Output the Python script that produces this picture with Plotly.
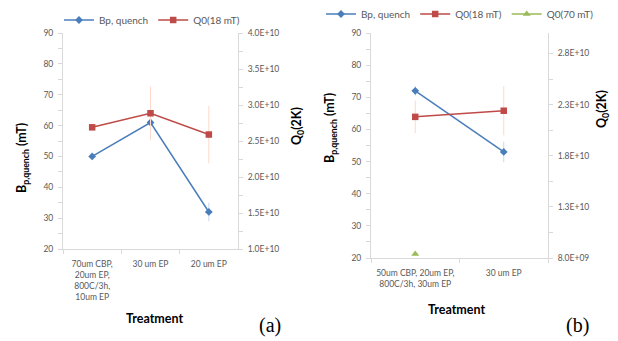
import plotly.graph_objects as go

# ---------------- data ----------------
cats_a = ["70um CBP,<br>20um EP,<br>800C/3h,<br>10um EP", "30 um EP", "20 um EP"]
bp_a = [50, 61, 32]
bp_a_err = [0, 0, 3]
q0_18_a = [2.69e10, 2.885e10, 2.59e10]
q0_18_a_err = [0, 0.37e10, 0.40e10]

cats_b = ["50um CBP, 20um EP,<br>800C/3h, 30um EP", "30 um EP"]
bp_b = [72, 53]
bp_b_err = [1.5, 3.2]
q0_18_b = [2.18e10, 2.24e10]
q0_18_b_err = [0.16e10, 0.24e10]
q0_70_b = [0.84e10, None]

bp_ticks = [20, 30, 40, 50, 60, 70, 80, 90]
q0_ticks_a = [1.0e10, 1.5e10, 2.0e10, 2.5e10, 3.0e10, 3.5e10, 4.0e10]
q0_ticks_b = [0.8e10, 1.3e10, 1.8e10, 2.3e10, 2.8e10]

# ---------------- style ----------------
FONT = "Lato"
BLUE = "#4a7ebb"
RED = "#be4b48"
GREEN = "#9bbb59"
GRID = "#d9d9d9"
TXT = "#595959"

W, H = 618, 341
def px_x(a, b):
    return [a / W, b / W]
def px_y(top, bottom):
    return [1 - bottom / H, 1 - top / H]

fig = go.Figure()

# panel (a)
fig.add_trace(go.Scatter(x=cats_a, y=bp_a, name="Bp, quench", mode="lines+markers",
                         line=dict(color=BLUE, width=1.5),
                         marker=dict(symbol="diamond", size=6, color=BLUE),
                         error_y=dict(type="data", array=bp_a_err, color="#c6daf0", thickness=1, width=0),
                         xaxis="x", yaxis="y", legend="legend"))
fig.add_trace(go.Scatter(x=cats_a, y=q0_18_a, name="Q0(18 mT)", mode="lines+markers",
                         line=dict(color=RED, width=1.5),
                         marker=dict(symbol="square", size=6.5, color=RED),
                         error_y=dict(type="data", array=q0_18_a_err, color="#fcd9cb", thickness=1, width=0),
                         xaxis="x", yaxis="y2", legend="legend"))

# panel (b)
fig.add_trace(go.Scatter(x=cats_b, y=bp_b, name="Bp, quench", mode="lines+markers",
                         line=dict(color=BLUE, width=1.5),
                         marker=dict(symbol="diamond", size=6, color=BLUE),
                         error_y=dict(type="data", array=bp_b_err, color="#c6daf0", thickness=1, width=0),
                         xaxis="x2", yaxis="y3", legend="legend2"))
fig.add_trace(go.Scatter(x=cats_b, y=q0_18_b, name="Q0(18 mT)", mode="lines+markers",
                         line=dict(color=RED, width=1.5),
                         marker=dict(symbol="square", size=6.5, color=RED),
                         error_y=dict(type="data", array=q0_18_b_err, color="#fcd9cb", thickness=1, width=0),
                         xaxis="x2", yaxis="y4", legend="legend2"))
fig.add_trace(go.Scatter(x=cats_b, y=q0_70_b, name="Q0(70 mT)", mode="lines+markers",
                         line=dict(color=GREEN, width=1.5),
                         marker=dict(symbol="triangle-up", size=7, color=GREEN),
                         xaxis="x2", yaxis="y4", legend="legend2"))

tickfont = dict(family=FONT, size=8.5, color=TXT)
titlefont = dict(family=FONT, size=12.5, color="#000000")

def xaxis(dom, cats, anchor):
    return dict(domain=dom, anchor=anchor, type="category", categoryorder="array",
                categoryarray=cats, range=[-0.5, len(cats) - 0.5], tickangle=0,
                showline=True, linecolor=GRID, linewidth=1, ticks="outside", tickson="boundaries",
                ticklen=4, tickcolor=GRID, showgrid=False, zeroline=False, tickfont=tickfont,
                ticklabelstandoff=7)

def yleft(dom, anchor, rng):
    return dict(domain=dom, anchor=anchor, range=rng, tickmode="array", tickvals=bp_ticks,
                ticktext=[str(v) for v in bp_ticks],
                showline=True, linecolor=GRID, ticks="outside", ticklen=4, tickcolor=GRID,
                minor=dict(ticks="outside", dtick=5, tick0=0, ticklen=4, tickcolor=GRID),
                showgrid=False, zeroline=False, tickfont=tickfont, ticklabelstandoff=3)

def yright(anchor, over, rng, ticks, minor_d, minor0):
    return dict(anchor=anchor, overlaying=over, side="right", range=rng, tickmode="array",
                tickvals=ticks, ticktext=[f"{v:.1E}" for v in ticks],
                showline=True, linecolor=GRID, ticks="outside", ticklen=4, tickcolor=GRID,
                minor=dict(ticks="outside", dtick=minor_d, tick0=minor0, ticklen=4, tickcolor=GRID),
                showgrid=False, zeroline=False, tickfont=tickfont, ticklabelstandoff=3)

def ann(text, x, y, angle=0, font=titlefont):
    return dict(text=text, x=x / W, y=1 - y / H, xref="paper", yref="paper", showarrow=False,
                textangle=angle, xanchor="center", yanchor="middle", font=font)

serif = dict(family="Liberation Serif", size=20, color="#000000")
legfont = dict(family=FONT, size=10, color=TXT)

fig.update_layout(
    width=W, height=H, margin=dict(l=0, r=0, t=0, b=0, autoexpand=False),
    paper_bgcolor="white", plot_bgcolor="white",
    font=dict(family=FONT, size=10, color=TXT),
    xaxis=xaxis(px_x(63, 238), cats_a, "y"),
    yaxis=yleft(px_y(33, 249), "x", [20, 90]),
    yaxis2=yright("x", "y", [1.0e10, 4.0e10], q0_ticks_a, 0.25e10, 1.0e10),
    xaxis2=xaxis(px_x(371, 548), cats_b, "y3"),
    yaxis3=yleft(px_y(33, 258), "x2", [20, 90]),
    yaxis4=yright("x2", "y3", [0.8e10, 3.0e10], q0_ticks_b, 0.25e10, 0.8e10),
    legend=dict(orientation="h", x=152 / W, y=1 - 20 / H, xanchor="center", yanchor="middle",
                font=legfont, itemwidth=30, bgcolor="rgba(0,0,0,0)"),
    legend2=dict(orientation="h", x=460 / W, y=1 - 14 / H, xanchor="center", yanchor="middle",
                 font=legfont, itemwidth=30, bgcolor="rgba(0,0,0,0)"),
    showlegend=True,
    annotations=[
        ann("<b>B<sub>p,quench</sub> (mT)</b>", 22, 158, -90),
        ann("<b>Q<sub>0</sub>(2K)</b>", 297, 126, -90),
        ann("<b>B<sub>p,quench</sub> (mT)</b>", 330, 128, -90),
        ann("<b>Q<sub>0</sub>(2K)</b>", 603, 109, -90),
        ann("<b>Treatment</b>", 154, 318),
        ann("<b>Treatment</b>", 456, 309),
        ann("(a)", 270, 325, font=serif),
        ann("(b)", 577, 325, font=serif),
    ],
)

fig.write_html("out.html", config={"displayModeBar": False},
               post_script="document.body.style.margin='0';document.body.style.padding='0';")
